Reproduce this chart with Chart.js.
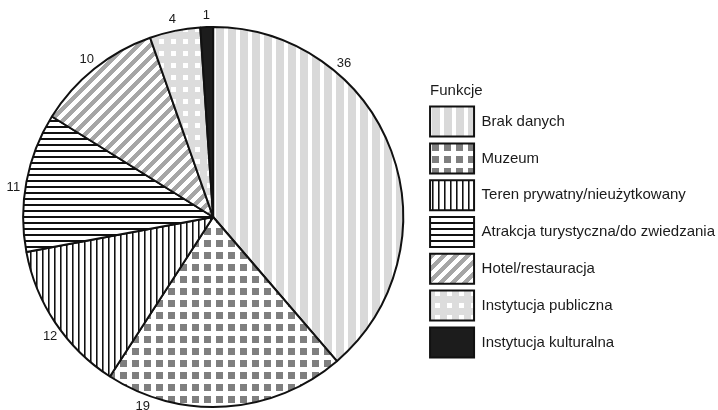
<!DOCTYPE html>
<html>
<head>
<meta charset="utf-8">
<script src="https://cdn.jsdelivr.net/npm/chart.js@4/dist/chart.umd.min.js"></script>
<style>
  body { margin: 0; background: #fff; }
  canvas { display: block; }
</style>
</head>
<body>
<canvas id="pieChart" width="718" height="410"></canvas>
<script>
// Funkcje obiektów
const categories = [
  'Brak danych',
  'Muzeum',
  'Teren prywatny/nieużytkowany',
  'Atrakcja turystyczna/do zwiedzania',
  'Hotel/restauracja',
  'Instytucja publiczna',
  'Instytucja kulturalna'
];
const counts = [36, 19, 12, 11, 10, 4, 1];
const legendTitle = 'Funkcje';

// where along each slice the value label sits (0 = start, 1 = end)
const labelAlong = [0.29, 0.83, 0.45, 0.45, 0.5, 0.5, 0.5];

const FONT = '"Liberation Sans", Arial, sans-serif';

function makePattern(w, h, draw) {
  const c = document.createElement('canvas');
  c.width = w;
  c.height = h;
  const g = c.getContext('2d');
  g.fillStyle = '#fff';
  g.fillRect(0, 0, w, h);
  draw(g, w, h);
  return g.createPattern(c, 'repeat');
}

const fills = [
  // light vertical stripes
  makePattern(12, 12, (g) => { g.fillStyle = '#d9d9d9'; g.fillRect(0, 0, 8, 12); }),
  // gray squares on white
  makePattern(12, 12, (g) => { g.fillStyle = '#7f7f7f'; g.fillRect(0, 0, 7, 7); }),
  // thin vertical lines
  makePattern(6, 6, (g) => { g.fillStyle = '#111'; g.fillRect(0, 0, 1, 6); g.fillStyle = '#777'; g.fillRect(1, 0, 1, 6); }),
  // horizontal lines
  makePattern(6, 6, (g) => { g.fillStyle = '#111'; g.fillRect(0, 0, 6, 2); }),
  // diagonal gray stripes, pixel by pixel so the tile seams stay clean
  makePattern(12, 12, (g) => {
    g.fillStyle = '#a6a6a6';
    for (let y = 0; y < 12; y++) {
      for (let x = 0; x < 12; x++) {
        if ((x + y) % 12 < 6) g.fillRect(x, y, 1, 1);
      }
    }
  }),
  // white squares on light gray
  makePattern(12, 12, (g) => { g.fillStyle = '#dcdcdc'; g.fillRect(0, 0, 12, 12); g.fillStyle = '#fff'; g.fillRect(3, 3, 5, 5); }),
  '#1c1c1c'
];

// value labels just outside the rim
const valueLabels = {
  id: 'valueLabels',
  afterDatasetsDraw(chart) {
    const ctx = chart.ctx;
    const meta = chart.getDatasetMeta(0);
    ctx.save();
    ctx.font = '13px ' + FONT;
    ctx.fillStyle = '#1a1a1a';
    ctx.textAlign = 'center';
    ctx.textBaseline = 'middle';
    meta.data.forEach((arc, i) => {
      const a = arc.startAngle + labelAlong[i] * (arc.endAngle - arc.startAngle);
      const r = arc.outerRadius + 12;
      ctx.fillText(String(counts[i]), arc.x + Math.cos(a) * r, arc.y + Math.sin(a) * r);
    });
    ctx.restore();
  }
};

// legend title aligned with the legend boxes
const legendHeading = {
  id: 'legendHeading',
  afterDraw(chart) {
    const boxes = chart.legend.legendHitBoxes;
    if (!boxes.length) return;
    const ctx = chart.ctx;
    ctx.save();
    ctx.font = '15px ' + FONT;
    ctx.fillStyle = '#1a1a1a';
    ctx.textAlign = 'left';
    ctx.textBaseline = 'middle';
    ctx.fillText(legendTitle, boxes[0].left, boxes[0].top - 16);
    ctx.restore();
  }
};

new Chart(document.getElementById('pieChart'), {
  type: 'pie',
  data: {
    labels: categories,
    datasets: [{
      data: counts,
      backgroundColor: fills,
      borderColor: '#111',
      borderWidth: 2,
      hoverOffset: 0
    }]
  },
  options: {
    responsive: false,
    animation: false,
    events: [],
    layout: { padding: { top: 26, bottom: 2, left: 3, right: -7 } },
    plugins: {
      tooltip: { enabled: false },
      legend: {
        position: 'right',
        align: 'center',
        title: {
          display: true,
          text: legendTitle,
          color: 'rgba(0,0,0,0)',
          font: { family: FONT, size: 15 },
          padding: { top: 12, bottom: 0 }
        },
        labels: {
          boxWidth: 44,
          boxHeight: 30,
          padding: 6.8,
          color: '#1a1a1a',
          font: { family: FONT, size: 15 }
        }
      }
    }
  },
  plugins: [valueLabels, legendHeading]
});
</script>
</body>
</html>
